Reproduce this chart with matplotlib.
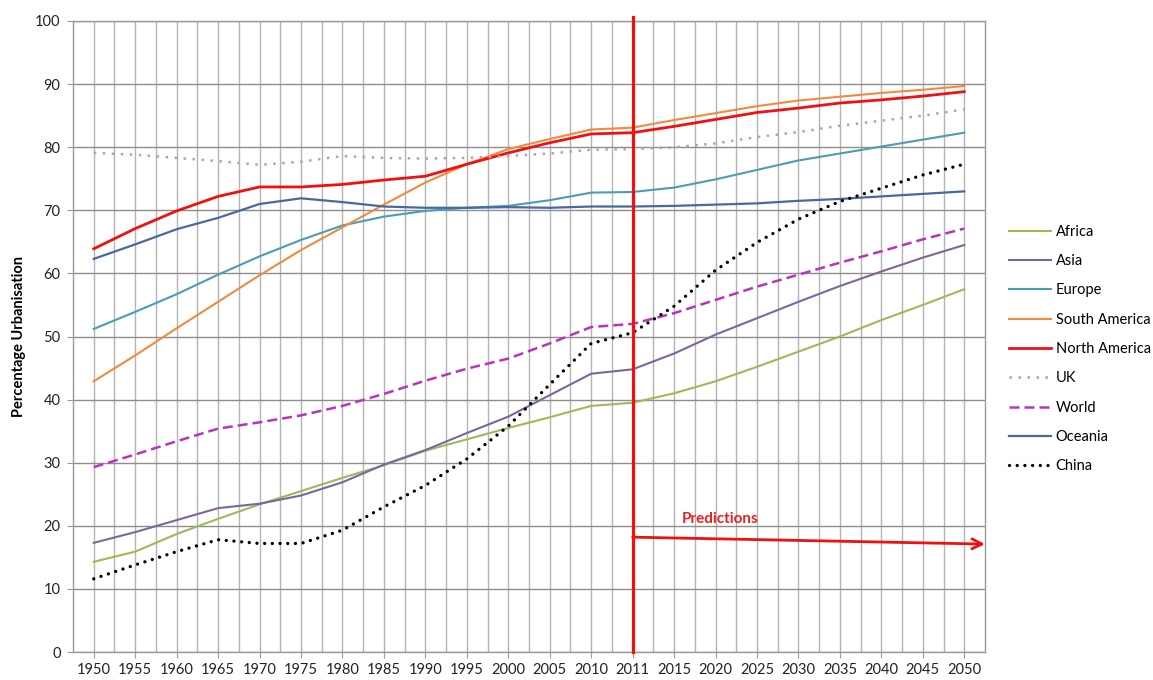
import matplotlib
matplotlib.use("Agg")
import matplotlib.pyplot as plt

plt.rcParams['font.family'] = ['Lato', 'DejaVu Sans']

years = ['1950', '1955', '1960', '1965', '1970', '1975', '1980', '1985', '1990',
         '1995', '2000', '2005', '2010', '2011', '2015', '2020', '2025', '2030',
         '2035', '2040', '2045', '2050']

africa = [14.3, 15.9, 18.7, 21.1, 23.4, 25.5, 27.6, 29.6, 31.9, 33.7, 35.5, 37.2,
          39.0, 39.5, 41.0, 42.9, 45.2, 47.6, 50.0, 52.6, 55.0, 57.5]
asia = [17.3, 19.0, 20.9, 22.8, 23.5, 24.8, 26.9, 29.7, 32.0, 34.7, 37.3, 40.7,
        44.1, 44.8, 47.3, 50.3, 52.9, 55.5, 58.0, 60.3, 62.5, 64.5]
europe = [51.2, 53.9, 56.7, 59.8, 62.7, 65.3, 67.6, 69.0, 69.9, 70.4, 70.7, 71.6,
          72.8, 72.9, 73.6, 74.9, 76.4, 77.9, 79.0, 80.1, 81.2, 82.3]
south_america = [42.9, 47.0, 51.3, 55.5, 59.7, 63.7, 67.3, 70.9, 74.4, 77.3, 79.7,
                 81.3, 82.8, 83.1, 84.3, 85.4, 86.5, 87.4, 88.0, 88.6, 89.1, 89.7]
north_america = [63.9, 67.1, 69.9, 72.2, 73.7, 73.7, 74.1, 74.8, 75.4, 77.3, 79.1,
                 80.7, 82.1, 82.3, 83.3, 84.4, 85.5, 86.2, 87.0, 87.5, 88.1, 88.8]
uk = [79.1, 78.8, 78.3, 77.8, 77.2, 77.7, 78.6, 78.3, 78.2, 78.3, 78.6, 79.0,
      79.6, 79.7, 80.0, 80.6, 81.6, 82.4, 83.4, 84.2, 85.0, 86.0]
world = [29.3, 31.3, 33.4, 35.4, 36.4, 37.5, 39.0, 40.9, 43.0, 44.9, 46.5, 48.9,
         51.5, 52.0, 53.7, 55.8, 57.9, 59.8, 61.7, 63.5, 65.4, 67.1]
oceania = [62.3, 64.6, 67.0, 68.8, 71.0, 71.9, 71.3, 70.6, 70.4, 70.4, 70.5, 70.4,
           70.6, 70.6, 70.7, 70.9, 71.1, 71.5, 71.8, 72.2, 72.6, 73.0]
china = [11.6, 13.8, 15.9, 17.8, 17.2, 17.2, 19.3, 23.0, 26.4, 30.6, 35.8, 42.4,
         48.9, 50.6, 54.8, 60.5, 64.9, 68.6, 71.4, 73.5, 75.6, 77.3]

prediction_start = '2011'
arrow_levels = (18.2, 17.1)

fig = plt.figure(figsize=(11.53, 6.8), dpi=100)
ax = fig.add_axes([73 / 1153, 1 - 652 / 680, (985 - 73) / 1153, (652 - 21) / 680])

x = list(range(len(years)))

series = [
    ('Africa', africa, dict(color='#9BBB59', lw=1.5)),
    ('Asia', asia, dict(color='#7E659F', lw=1.5)),
    ('Europe', europe, dict(color='#4A9DB6', lw=1.5)),
    ('South America', south_america, dict(color='#F28A3E', lw=1.5)),
    ('North America', north_america, dict(color='#F01010', lw=2.0)),
    ('UK', uk, dict(color='#C79C9E', lw=1.8, linestyle=(0, (1, 2.6)),
                    dash_capstyle='butt')),
    ('World', world, dict(color='#BB33BB', lw=1.8, linestyle=(0, (4, 2.0)),
                          dash_capstyle='butt')),
    ('Oceania', oceania, dict(color='#476A9E', lw=1.6)),
    ('China', china, dict(color='#000000', lw=2.4, linestyle=(0, (0.01, 2.3)),
                          dash_capstyle='round')),
]

for name, vals, style in series:
    ax.plot(x, vals, label=name, zorder=3, **style)

# axes, grid and ticks
ax.set_xlim(-0.5, len(years) - 0.5)
ax.set_ylim(0, 100)
ax.set_yticks(range(0, 101, 10))
ax.set_xticks(x)
ax.set_xticklabels(years)
ax.set_xticks([i + 0.5 for i in x[:-1]], minor=True)
ax.grid(axis='y', which='major', color='#8E8E8E', lw=1.0, zorder=0)
ax.grid(axis='x', which='both', color='#B4B4B4', lw=1.0, zorder=0)
for s in ax.spines.values():
    s.set_color('#9A9A9A')
    s.set_linewidth(1.0)
ax.tick_params(axis='both', which='major', length=4, color='#9A9A9A',
               labelsize=10.5, labelcolor='#222222')
ax.tick_params(axis='x', which='major', pad=4)
ax.tick_params(axis='y', which='major', pad=5)
ax.tick_params(axis='x', which='minor', length=0)

ax.set_ylabel('Percentage Urbanisation', fontsize=10.5, fontweight='bold')
ax.yaxis.set_label_coords(-0.051, 0.5)

# prediction marker
xi = years.index(prediction_start)
ax.plot([xi, xi], [0, 100.6], color='#F01010', lw=2.3, clip_on=False, zorder=4)
ax.annotate('', xy=(len(years) - 0.5, arrow_levels[1]), xytext=(xi, arrow_levels[0]),
            arrowprops=dict(arrowstyle='->', color='#F01010', lw=2.0,
                            mutation_scale=18, shrinkA=0, shrinkB=0),
            annotation_clip=False, zorder=4)
ax.text(15.12, 21.0, 'Predictions', color='#E5201F', fontsize=11,
        fontweight='bold', ha='center', va='center', zorder=4)

leg = fig.legend(loc='upper left', bbox_to_anchor=(1003 / 1153, 1 - 219 / 680),
                 frameon=False, fontsize=10.5, handlelength=2.9, handletextpad=0.3,
                 labelspacing=1.05, borderaxespad=0)

fig.savefig('out.png', dpi=100)
